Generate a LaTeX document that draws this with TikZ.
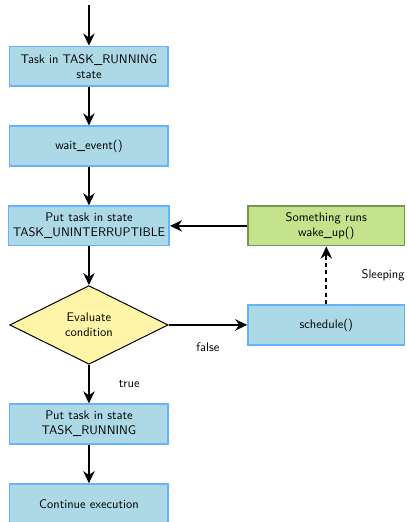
\documentclass[tikz,border=0pt]{standalone}
\usepackage{tikz}
\usetikzlibrary{positioning,arrows.meta,shapes.geometric}
\definecolor{StateBlue}{RGB}{173,216,230}
\definecolor{StateEdge}{RGB}{102,178,255}
\definecolor{WakeGreen}{RGB}{196,227,140}
\definecolor{WakeEdge}{RGB}{118,150,78}
\definecolor{CondYellow}{RGB}{255,245,168}
\tikzset{
  flow/.style={-{Stealth[length=3.4mm,width=3.2mm]},line width=1.6pt},
  dashflow/.style={-{Stealth[length=3.4mm,width=3.2mm]},line width=1.6pt,
    dash pattern=on 3.5pt off 2.5pt},
  box/.style={draw=StateEdge,fill=StateBlue,line width=1.2pt,
    minimum width=4.47cm,minimum height=1.12cm,align=center,font=\sffamily},
  greenbox/.style={draw=WakeEdge,fill=WakeGreen,line width=1.2pt,
    minimum width=4.42cm,minimum height=1.12cm,align=center,font=\sffamily},
  decision/.style={diamond,aspect=2,draw=black,fill=CondYellow,line width=0.8pt,
    minimum width=4.47cm,minimum height=2.22cm,inner sep=0pt,align=center,font=\sffamily},
  tag/.style={font=\sffamily}
}

\begin{document}
\begin{tikzpicture}[node distance=1.09cm]
  \useasboundingbox (0,0) rectangle (11.46,-14.73);

  \coordinate (entry) at (2.51,-0.14);
  \node[box] (running) at (2.51,-1.87) {Task in TASK\_RUNNING\\state};
  \node[box,below=of running] (wait) {wait\_event()};
  \node[box,below=of wait] (uninter) {Put task in state\\TASK\_UNINTERRUPTIBLE};
  \node[decision,below=of uninter] (cond) {Evaluate\\condition};
  \node[box,below=of cond] (setrun) {Put task in state\\TASK\_RUNNING};
  \node[box,below=of setrun] (cont) {Continue execution};

  \node[greenbox,right=2.18cm of uninter] (wake) {Something runs\\wake\_up()};
  \node[box,minimum width=4.42cm] (sched) at (wake |- cond) {schedule()};

  \draw[flow] (entry) -- (running);
  \draw[flow] (running) -- (wait);
  \draw[flow] (wait) -- (uninter);
  \draw[flow] (uninter) -- (cond);
  \draw[flow] (cond) -- node[tag,right=0.7cm] {true} (setrun);
  \draw[flow] (setrun) -- (cont);
  \draw[flow] (cond) -- node[tag,below=0.35cm] {false} (sched);
  \draw[dashflow] (sched) -- node[tag,right=0.85cm] {Sleeping} (wake);
  \draw[flow] (wake) -- (uninter);
\end{tikzpicture}
\end{document}
